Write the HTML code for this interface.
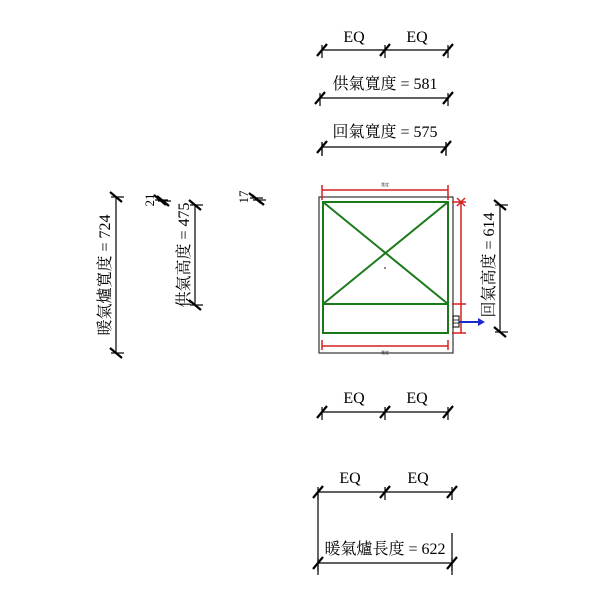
<!DOCTYPE html>
<html><head><meta charset="utf-8"><style>
html,body{margin:0;padding:0;background:#fff;}
svg{display:block;}
text{font-family:"Liberation Serif","Noto Serif CJK SC","Noto Sans CJK TC",serif;fill:#000;}
</style></head><body>
<svg width="600" height="600" viewBox="0 0 600 600" xmlns="http://www.w3.org/2000/svg">
<defs>
<g id="tk"><line x1="-5" y1="6" x2="5" y2="-6" stroke="#000" stroke-width="2.2"/><line x1="0" y1="-5" x2="0" y2="8" stroke="#000" stroke-width="1.2"/></g>
<g id="tv"><line x1="-6" y1="-5" x2="6" y2="5" stroke="#000" stroke-width="2.2"/><line x1="-5" y1="0" x2="8" y2="0" stroke="#000" stroke-width="1.2"/></g>
</defs>
<g stroke="#000" stroke-width="1.2" fill="none">
<line x1="322" y1="50" x2="448" y2="50"/>
<line x1="320" y1="98" x2="448" y2="98"/>
<line x1="322" y1="147" x2="446" y2="147"/>
<line x1="322" y1="142" x2="322" y2="156"/><line x1="446" y1="142" x2="446" y2="156"/>
<line x1="322" y1="412" x2="448" y2="412"/>
<line x1="318" y1="492" x2="452" y2="492"/>
<line x1="318" y1="492" x2="318" y2="575"/>
<line x1="452" y1="533" x2="452" y2="575"/>
<line x1="318" y1="563" x2="452" y2="563"/>
<line x1="116" y1="197" x2="116" y2="353"/>
<line x1="195" y1="205" x2="195" y2="305"/>
<line x1="500" y1="205" x2="500" y2="332"/>
</g>
<use href="#tk" x="322" y="50"/><use href="#tk" x="385" y="50"/><use href="#tk" x="448" y="50"/>
<use href="#tk" x="320" y="98"/><use href="#tk" x="448" y="98"/>
<use href="#tk" x="322" y="147"/><use href="#tk" x="446" y="147"/>
<use href="#tk" x="322" y="412"/><use href="#tk" x="385" y="412"/><use href="#tk" x="448" y="412"/>
<use href="#tk" x="318" y="492"/><use href="#tk" x="385" y="492"/><use href="#tk" x="452" y="492"/>
<use href="#tk" x="318" y="563"/><use href="#tk" x="452" y="563"/>
<use href="#tv" x="116" y="197"/><use href="#tv" x="116" y="353"/>
<use href="#tv" x="195" y="205"/><use href="#tv" x="195" y="305"/>
<use href="#tv" x="500" y="205"/><use href="#tv" x="500" y="332"/>
<use href="#tv" x="160" y="200"/><use href="#tv" x="163" y="201"/>
<use href="#tv" x="255" y="198"/><use href="#tv" x="258" y="200"/>
<g font-size="16" text-anchor="middle">
<text x="354" y="42">EQ</text><text x="417" y="42">EQ</text>
<text x="385" y="89">供氣寬度 = 581</text>
<text x="385" y="137">回氣寬度 = 575</text>
<text x="354" y="403">EQ</text><text x="417" y="403">EQ</text>
<text x="350" y="483">EQ</text><text x="418" y="483">EQ</text>
<text x="385" y="554">暖氣爐長度 = 622</text>
<text transform="translate(110,275) rotate(-90)">暖氣爐寬度 = 724</text>
<text transform="translate(189,255) rotate(-90)">供氣高度 = 475</text>
<text transform="translate(494,265) rotate(-90)">回氣高度 = 614</text>
<text transform="translate(154,200) rotate(-90)" font-size="13">21</text>
<text transform="translate(248,197) rotate(-90)" font-size="13">17</text>
</g>
<rect x="319" y="197" width="134" height="156" fill="none" stroke="#333" stroke-width="1.2"/>
<g stroke="#1a7a1a" stroke-width="2" fill="none">
<rect x="323" y="202" width="125" height="131"/>
<line x1="323" y1="304" x2="448" y2="304"/>
<line x1="323" y1="202" x2="448" y2="304"/>
<line x1="448" y1="202" x2="323" y2="304"/>
</g>
<circle cx="385" cy="268" r="0.8" fill="#000"/>
<g stroke="#d42020" stroke-width="1.5" fill="none">
<line x1="322" y1="190" x2="448" y2="190"/>
<line x1="322" y1="185" x2="322" y2="200"/><line x1="448" y1="185" x2="448" y2="200"/>
<line x1="322" y1="346" x2="448" y2="346"/>
<line x1="322" y1="340" x2="322" y2="350"/><line x1="448" y1="340" x2="448" y2="350"/>
<line x1="461" y1="202" x2="461" y2="333"/>
<line x1="452" y1="202" x2="466" y2="202"/><line x1="452" y1="304" x2="466" y2="304"/><line x1="452" y1="333" x2="466" y2="333"/>
<line x1="457" y1="198" x2="465" y2="206"/><line x1="457" y1="206" x2="465" y2="198"/>
</g>
<g font-size="4" fill="#33a" text-anchor="middle" font-family="Liberation Sans,sans-serif">
<text x="385" y="186" fill="#33a">寬度</text><text x="385" y="354" fill="#33a">寬度</text>
</g>
<rect x="453" y="316" width="6" height="11" fill="none" stroke="#000" stroke-width="1"/>
<line x1="453" y1="320" x2="459" y2="320" stroke="#000" stroke-width="0.8"/>
<line x1="453" y1="323" x2="459" y2="323" stroke="#000" stroke-width="0.8"/>
<line x1="459" y1="322" x2="480" y2="322" stroke="#1a2ad0" stroke-width="2"/>
<polygon points="478,318 485,322 478,326" fill="#1a2ad0"/>
</svg>
</body></html>
